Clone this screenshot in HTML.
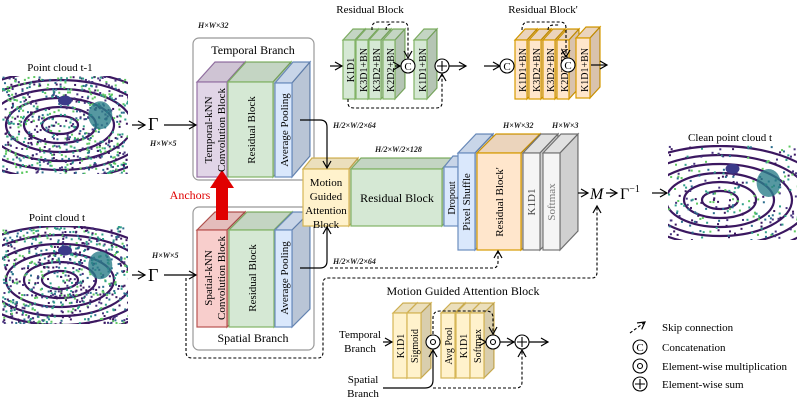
<!DOCTYPE html>
<html><head><meta charset="utf-8"><style>
body{margin:0;background:#fff}
svg{display:block;font-family:"Liberation Serif",serif}
</style></head><body>
<svg id="s" width="797" height="405" viewBox="0 0 797 405" xmlns="http://www.w3.org/2000/svg">
<defs>
<marker id="a" markerWidth="10" markerHeight="10" refX="8" refY="5" orient="auto" markerUnits="userSpaceOnUse"><path d="M1,1 L8,5 L1,9" fill="none" stroke="#000" stroke-width="1.2"/></marker>
</defs>
<g id="pc"></g>
<rect x="193" y="38" width="121" height="142" rx="6" fill="none" stroke="#999" stroke-width="1.2"/>
<rect x="193" y="207" width="121" height="143" rx="6" fill="none" stroke="#999" stroke-width="1.2"/>
<g id="boxes"></g>
<rect x="216" y="186" width="12" height="34" fill="#e00000"/>
<polygon points="210,188 234,188 222,170" fill="#e00000"/>
<text x="190" y="199" font-size="12" fill="#e00000" text-anchor="middle">Anchors</text>

<g font-size="11" text-anchor="middle">
<text x="60" y="71">Point cloud t-1</text>
<text x="57" y="221">Point cloud t</text>
<text x="730" y="141">Clean point cloud t</text>
<text x="253" y="54" font-size="12">Temporal Branch</text>
<text x="253" y="342" font-size="12">Spatial Branch</text>
<text x="370" y="13" font-size="11">Residual Block</text>
<text x="543" y="13" font-size="11">Residual Block'</text>
<text x="463" y="295" font-size="12">Motion Guided Attention Block</text>
<text x="326" y="186" font-size="11">Motion</text>
<text x="326" y="200" font-size="11">Guided</text>
<text x="326" y="214" font-size="11">Attention</text>
<text x="326" y="228" font-size="11">Block</text>
<text x="397" y="202" font-size="12">Residual Block</text>
<text x="360" y="338">Temporal</text><text x="360" y="352">Branch</text>
<text x="363" y="383">Spatial</text><text x="363" y="397">Branch</text>
</g>
<g font-size="8" font-style="italic" font-weight="bold" fill="#222">
<text x="198" y="28">H×W×32</text>
<text x="150" y="146">H×W×5</text>
<text x="152" y="258">H×W×5</text>
<text x="333" y="128">H/2×W/2×64</text>
<text x="333" y="264">H/2×W/2×64</text>
<text x="375" y="152">H/2×W/2×128</text>
<text x="503" y="128">H×W×32</text>
<text x="552" y="128">H×W×3</text>
</g>
<g font-size="18">
<text x="148" y="130">Γ</text>
<text x="148" y="281">Γ</text>
<text x="590" y="199" font-style="italic" font-size="16">M</text>
<text x="620" y="199" font-size="16">Γ<tspan font-size="10" dy="-7">−1</tspan></text>
</g>
<g id="vt" font-size="10" text-anchor="middle"></g>

<g stroke="#000" stroke-width="1.2" fill="none">
<path d="M132,125 H145" marker-end="url(#a)"/>
<path d="M164,125 H196" marker-end="url(#a)"/>
<path d="M132,275 H145" marker-end="url(#a)"/>
<path d="M164,275 H196" marker-end="url(#a)"/>
<path d="M300,120 H320 Q327,120 327,127 V168" marker-end="url(#a)"/>
<path d="M300,268 H320 Q327,268 327,261 V227" marker-end="url(#a)"/>
<path d="M578,193 H588" marker-end="url(#a)"/>
<path d="M606,193 H617" marker-end="url(#a)"/>
<path d="M652,193 H667" marker-end="url(#a)"/>
<path d="M330,66 H342" marker-end="url(#a)"/>
<path d="M395,66 H400" marker-end="url(#a)"/>
<path d="M449,66 H466" marker-end="url(#a)"/>
<path d="M484,66 H500" marker-end="url(#a)"/>
<path d="M591,65 H607" marker-end="url(#a)"/>
<path d="M383,342 H392" marker-end="url(#a)"/>
<path d="M485,342 H486" marker-end="url(#a)"/>
<path d="M500,342 H514" marker-end="url(#a)"/>
<path d="M529,342 H548" marker-end="url(#a)"/>
<path d="M383,388 H425 Q433,388 433,380 V350" marker-end="url(#a)"/>
</g>
<g stroke="#000" stroke-width="1.1" fill="none" stroke-dasharray="3,2">
<path d="M186,278 V352 Q186,358 192,358 H318 Q323,358 323,352 V283 Q323,278 328,278 H592 Q597,278 597,272 V206" marker-end="url(#a)"/>
<path d="M330,268 H493 Q498,268 498,262 V251" marker-end="url(#a)"/>
<path d="M372,30 V28 Q372,22 378,22 H402 Q408,22 408,28 V58" marker-end="url(#a)"/>
<path d="M386,30 Q386,24 392,24"/>
<path d="M348,99 V103 Q348,108 354,108 H436 Q442,108 442,103 V74" marker-end="url(#a)"/>
<path d="M522,30 Q522,22 528,22 H560 Q566,22 566,28 V57" marker-end="url(#a)"/>
<path d="M548,30 Q548,25 554,25 H560"/>
<path d="M433,334 V318 Q433,311 440,311 H486 Q493,311 493,318 V334" marker-end="url(#a)"/>
<path d="M433,388 H516 Q522,388 522,382 V350" marker-end="url(#a)"/>
<path d="M630,333 L645,322" marker-end="url(#a)"/>
</g>
<g stroke="#000" stroke-width="1.1" fill="#fff" font-size="11" text-anchor="middle">
<circle cx="408" cy="66" r="7"/><text x="408" y="70" stroke="none" fill="#000">C</text>
<circle cx="442" cy="66" r="7"/><path d="M437,66 H447 M442,61 V71"/>
<circle cx="507" cy="66" r="7"/><text x="507" y="70" stroke="none" fill="#000">C</text>
<circle cx="568" cy="65" r="7"/><text x="568" y="69" stroke="none" fill="#000">C</text>
<circle cx="433" cy="342" r="7"/><circle cx="433" cy="342" r="2.5"/>
<circle cx="493" cy="342" r="7"/><circle cx="493" cy="342" r="2.5"/>
<circle cx="522" cy="342" r="7"/><path d="M517,342 H527 M522,337 V347"/>
<circle cx="640" cy="347" r="7"/><text x="640" y="351" stroke="none" fill="#000">C</text>
<circle cx="640" cy="366" r="7"/><circle cx="640" cy="366" r="2.5"/>
<circle cx="640" cy="384" r="7"/><path d="M635,384 H645 M640,379 V389"/>
</g>
<g font-size="11">
<text x="662" y="331">Skip connection</text>
<text x="662" y="351">Concatenation</text>
<text x="662" y="370">Element-wise multiplication</text>
<text x="662" y="388">Element-wise sum</text>
</g>
</svg>
<script>
var NS="http://www.w3.org/2000/svg";
function el(p,t,a){var e=document.createElementNS(NS,t);for(var k in a)e.setAttribute(k,a[k]);p.appendChild(e);return e;}
var B=document.getElementById('boxes'),V=document.getElementById('vt');
var C={p:['#e1d5e7','#9673a6'],g:['#d5e8d4','#82b366'],b:['#dae8fc','#6c8ebf'],y:['#fff2cc','#d6b656'],o:['#ffe6cc','#d79b00'],r:['#f8cecc','#b85450'],k:['#f5f5f5','#777']};
function box(x,y,w,h,dx,dy,c){var f=C[c][0],s=C[c][1];
el(B,'polygon',{points:[x,y,x+dx,y-dy,x+w+dx,y-dy,x+w,y].join(','),fill:f,stroke:s,'stroke-width':1.2});
el(B,'polygon',{points:[x+w,y,x+w+dx,y-dy,x+w+dx,y+h-dy,x+w,y+h].join(','),fill:f,stroke:s,'stroke-width':1.2});
el(B,'polygon',{points:[x,y,x+dx,y-dy,x+w+dx,y-dy,x+w,y].join(','),fill:'#000','fill-opacity':.08,stroke:'none'});
el(B,'polygon',{points:[x+w,y,x+w+dx,y-dy,x+w+dx,y+h-dy,x+w,y+h].join(','),fill:'#000','fill-opacity':.15,stroke:'none'});
el(B,'rect',{x:x,y:y,width:w,height:h,fill:f,stroke:s,'stroke-width':1.2});}
box(197,82,30,95,18,20,'p');box(228,82,45,95,18,20,'g');box(275,83,17,94,18,21,'b');
box(197,230,30,97,18,18,'r');box(229,230,45,97,18,18,'g');box(275,230,17,97,18,18,'b');
box(303,169,46,57,9,11,'y');box(351,169,91,57,10,11,'g');box(444,167,14,59,9,11,'b');
box(458,153,17,97,18,19,'b');box(477,153,44,97,19,19,'o');box(523,153,17,97,18,19,'k');box(543,153,17,97,18,19,'k');
[343,356,369,383].forEach(function(x){box(x,40,12,59,10,11,'g');});box(414,40,13,59,10,11,'g');
[515,529,543,557].forEach(function(x){box(x,40,12,59,10,11,'o');});box(576,38,14,60,10,11,'o');
[393,407].forEach(function(x){box(x,313,14,65,10,10,'y');});[441,456,470].forEach(function(x){box(x,313,14,65,10,10,'y');});
function vt(x,y,t,fs,col){var e=el(V,'text',{transform:'translate('+x+','+y+') rotate(-90)','font-size':fs||10,fill:col||'#000'});e.textContent=t;}
vt(212,130,'Temporal-kNN',11);vt(225,130,'Convolution Block',11);vt(255,130,'Residual Block',11);vt(288,130,'Average Pooling',11);
vt(212,278,'Spatial-kNN',11);vt(225,278,'Convolution Block',11);vt(256,278,'Residual Block',11);vt(288,278,'Average Pooling',11);
vt(455,198,'Dropout',10);vt(470,202,'Pixel Shuffle',11);vt(503,202,'Residual Block\'',11);vt(535,202,'K1D1',11,'#444');vt(555,202,'Softmax',11,'#777');
var tl=[[352,'K1D1'],[365,'K3D1+BN'],[378,'K3D2+BN'],[392,'K2D2+BN'],[424,'K1D1+BN'],[524,'K1D1+BN'],[538,'K3D2+BN'],[552,'K3D2+BN'],[566,'K2D2+BN'],[586,'K1D1+BN']];
tl.forEach(function(a){vt(a[0]+2,70,a[1],10);});
[[403,'K1D1'],[417,'Sigmoid'],[451,'Avg Pool'],[466,'K1D1'],[480,'Softmax']].forEach(function(a){vt(a[0]+1,346,a[1],10);});
var P=document.getElementById('pc');var sd=7;function r(){sd=(sd*16807)%2147483647;return sd/2147483647;}
function cloud(x0,y0,w,h,cx,cy,dense){
 var cl=el(P,'clipPath',{id:'c'+x0+y0});el(cl,'rect',{x:x0,y:y0,width:w,height:h});
 var g=el(P,'g',{'clip-path':'url(#c'+x0+y0+')'});
 for(var i=1;i<7;i++)el(g,'ellipse',{cx:cx,cy:cy,rx:18*i,ry:9*i,fill:'none',stroke:'#3b1760','stroke-width':2.2});
 for(var j=0;j<dense;j++){var c=['#3b1760','#2c6e8e','#31a08a','#46327e','#5ec962'][Math.floor(r()*5)];
  el(g,'rect',{x:x0+r()*w,y:y0+r()*h,width:2,height:2,fill:c});}
 el(g,'ellipse',{cx:x0+w*0.78,cy:y0+h*0.4,rx:12,ry:14,fill:'#2c7e8a','fill-opacity':.8});
 el(g,'ellipse',{cx:x0+w*0.5,cy:y0+h*0.25,rx:7,ry:5,fill:'#3b3a8a'});
}
cloud(2,76,126,98,60,125,700);cloud(2,226,126,98,60,280,700);
sd=11;cloud(668,145,129,95,720,200,250);
</script>
</body></html>
